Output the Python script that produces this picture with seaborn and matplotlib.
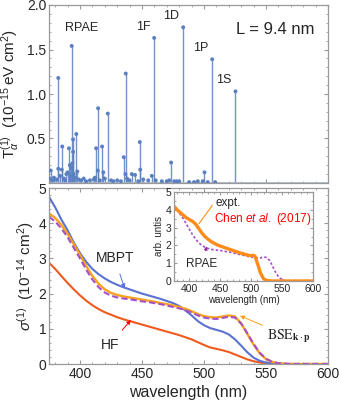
import numpy as np
import pandas as pd
import matplotlib
matplotlib.use("Agg")
import matplotlib.pyplot as plt
from matplotlib.ticker import MultipleLocator, FormatStrFormatter
import seaborn as sns

# ---------------- data ----------------
# top panel: oscillator strengths (RPAE), wavelength (nm) and T (1e-15 eV cm^2)
stem_wl = [376.4, 382.5, 382.5, 385.7, 385.3, 391.1, 393.3, 394.4, 394.4, 397.0, 397.8, 392.8,
           413.0, 414.6, 414.4, 417.8, 418.8, 422.4, 435.3, 436.9, 436.7, 448.2, 448.6, 441.8,
           444.4, 459.8, 457.9, 473.5, 483.2, 500.4, 506.6, 525.4,
           375.5, 378.0, 379.0, 381.0, 384.0, 387.0, 388.0, 389.0, 390.0, 391.8, 392.3, 393.8,
           395.0, 396.0, 399.0, 401.0, 403.0, 405.0, 408.0, 411.0, 412.0, 416.0, 420.0, 425.0,
           427.0, 430.0, 433.0, 438.0, 440.0, 447.0, 451.0, 455.0, 461.0, 466.0, 470.0, 472.0,
           476.0, 478.0, 480.0, 488.0, 492.0, 495.0, 499.0, 503.0, 509.0]
stem_val = [0.14, 1.18, 0.16, 0.41, 0.15, 0.39, 1.54, 0.49, 0.35, 0.55, 0.13, 0.17,
            0.39, 0.84, 0.14, 0.41, 0.12, 0.78, 0.29, 1.23, 0.10, 0.46, 0.15, 0.10,
            0.09, 1.63, 0.08, 0.23, 1.75, 0.12, 1.39, 1.03,
            0.05, 0.03, 0.06, 0.04, 0.08, 0.05, 0.03, 0.10, 0.12, 0.20, 0.08, 0.22,
            0.10, 0.06, 0.04, 0.03, 0.05, 0.02, 0.03, 0.04, 0.06, 0.03, 0.05, 0.03,
            0.02, 0.03, 0.02, 0.05, 0.03, 0.02, 0.04, 0.03, 0.03, 0.02, 0.02, 0.03,
            0.02, 0.02, 0.02, 0.01, 0.01, 0.02, 0.02, 0.01, 0.01]

state_labels = ["1F", "1D", "1P", "1S"]

# bottom panel: cross sections (1e-14 cm^2)
wl = [375, 380, 385, 390, 395, 400, 405, 410, 415, 420, 425, 430, 435, 440, 445, 450,
      455, 460, 465, 470, 475, 480, 485, 490, 495, 500, 505, 510, 515, 520, 525, 530,
      535, 540, 545, 550, 555, 560, 565, 570, 580, 590, 600]
mbpt = [4.75, 4.45, 4.10, 3.80, 3.45, 3.15, 2.90, 2.70, 2.55, 2.43, 2.33, 2.25, 2.18, 2.12, 2.06, 2.00,
        1.95, 1.90, 1.85, 1.79, 1.73, 1.65, 1.52, 1.38, 1.22, 1.10, 1.02, 0.97, 0.92, 0.84, 0.70, 0.52,
        0.33, 0.18, 0.09, 0.04, 0.02, 0.01, 0.0, 0.0, 0.0, 0.0, 0.0]
bse = [4.28, 4.15, 3.95, 3.70, 3.40, 3.10, 2.78, 2.50, 2.28, 2.12, 2.02, 1.96, 1.92, 1.89, 1.86, 1.83,
       1.80, 1.77, 1.73, 1.70, 1.66, 1.62, 1.57, 1.50, 1.42, 1.36, 1.33, 1.32, 1.35, 1.38, 1.35, 1.15,
       0.85, 0.55, 0.30, 0.14, 0.06, 0.02, 0.01, 0.0, 0.0, 0.0, 0.0]
rpae = [4.18, 4.05, 3.85, 3.60, 3.30, 3.00, 2.68, 2.40, 2.18, 2.03, 1.94, 1.89, 1.86, 1.84, 1.81, 1.78,
        1.76, 1.73, 1.70, 1.66, 1.62, 1.58, 1.53, 1.46, 1.38, 1.32, 1.29, 1.28, 1.31, 1.34, 1.32, 1.15,
        0.87, 0.57, 0.32, 0.15, 0.06, 0.02, 0.01, 0.0, 0.0, 0.0, 0.0]
hf = [2.88, 2.70, 2.50, 2.30, 2.12, 1.95, 1.80, 1.67, 1.56, 1.47, 1.40, 1.33, 1.27, 1.22, 1.17, 1.12,
      1.07, 1.02, 0.97, 0.92, 0.87, 0.82, 0.76, 0.70, 0.62, 0.54, 0.47, 0.43, 0.39, 0.34, 0.27, 0.20,
      0.13, 0.08, 0.04, 0.02, 0.01, 0.0, 0.0, 0.0, 0.0, 0.0, 0.0]

# inset: experiment vs RPAE (arb. units)
ins_wl = [375, 380, 385, 390, 395, 400, 405, 410, 415, 420, 425, 430, 435, 440, 445, 450, 455, 460,
          465, 470, 475, 480, 485, 490, 495, 500, 503, 506, 510, 515, 520, 525, 530, 535, 540, 545,
          550, 555, 560, 570, 580, 590, 600]
expt = [4.20, 4.00, 3.85, 3.70, 3.55, 3.45, 3.35, 3.20, 2.95, 2.70, 2.50, 2.35, 2.22, 2.12, 2.03, 1.96,
        1.90, 1.84, 1.78, 1.72, 1.66, 1.60, 1.55, 1.50, 1.45, 1.42, 1.45, 1.40, 1.00, 0.45, 0.12, 0.03,
        0.01, 0.0, 0.0, 0.0, 0.0, 0.0, 0.0, 0.0, 0.0, 0.0, 0.0]
rpae_ins = [4.20, 4.00, 3.75, 3.50, 3.20, 2.90, 2.60, 2.35, 2.15, 2.00, 1.90, 1.83, 1.78, 1.75, 1.73,
            1.71, 1.68, 1.65, 1.62, 1.58, 1.54, 1.50, 1.46, 1.42, 1.38, 1.35, 1.33, 1.32, 1.30, 1.30,
            1.35, 1.32, 1.15, 0.80, 0.45, 0.20, 0.07, 0.02, 0.0, 0.0, 0.0, 0.0, 0.0]

# ---------------- style ----------------
sns.set_style("ticks")
plt.rcParams["font.family"] = ["Liberation Sans", "DejaVu Sans"]
plt.rcParams["mathtext.fontset"] = "custom"
plt.rcParams["mathtext.rm"] = "Liberation Sans"
plt.rcParams["mathtext.it"] = "Liberation Sans:italic"
plt.rcParams["mathtext.bf"] = "Liberation Sans:bold"

FRAME = "#9a9a9a"
C_STEM = "#5a80c0"
C_MBPT = "#5b72d0"
C_BSE = "#f7a21b"
C_RPAE = "#a64fc9"
C_HF = "#ef5b1e"
C_EXPT = "#ff8c1a"

W, H = 339, 404
fig = plt.figure(figsize=(W / 100, H / 100), dpi=100)

def rect(l, t, r, b):
    return [l / W, 1 - b / H, (r - l) / W, (b - t) / H]

ax1 = fig.add_axes(rect(49, 5, 328, 183))
ax2 = fig.add_axes(rect(49, 188, 328, 364))
ax3 = fig.add_axes(rect(174, 192, 313, 281))

def frame(ax, size=3, labelsize=10):
    for s in ax.spines.values():
        s.set_color(FRAME)
        s.set_linewidth(0.9)
    ax.tick_params(which="both", direction="in", top=True, right=True, color=FRAME,
                   labelsize=labelsize, pad=2)
    ax.tick_params(which="major", length=size, width=0.8)
    ax.tick_params(which="minor", length=size * 0.55, width=0.6)

# ---------------- top panel ----------------
stems = pd.DataFrame({"wl": stem_wl, "T": stem_val})
ax1.vlines(stems["wl"], 0, stems["T"], color=C_STEM, lw=1.0, alpha=0.85)
sns.scatterplot(data=stems, x="wl", y="T", ax=ax1, color=C_STEM, s=8, edgecolor="none", zorder=3)
ax1.axhline(0.0, color="#aab6cc", lw=1.2)
ax1.set_xlim(375, 600)
ax1.set_ylim(0, 2.0)
ax1.set_yticks([0.5, 1.0, 1.5, 2.0])
ax1.yaxis.set_major_formatter(FormatStrFormatter("%.1f"))
ax1.yaxis.set_minor_locator(MultipleLocator(0.1))
ax1.xaxis.set_major_locator(MultipleLocator(50))
ax1.xaxis.set_minor_locator(MultipleLocator(10))
ax1.set_xticklabels([])
ax1.set_xlabel("")
ax1.set_ylabel(r"$\mathrm{T}_{\alpha}^{(1)}$  $(10^{-15}\,\mathrm{eV\ cm}^{2})$", fontsize=11, labelpad=4)
frame(ax1)

ax1.text(82 / W, 1 - 28 / H, "RPAE", transform=fig.transFigure, fontsize=9, ha="center", va="center")
label_xy = [(459.8, 1.63), (483.2, 1.75), (506.6, 1.39), (525.4, 1.03)]
for lab, (x, y) in zip(state_labels, label_xy):
    ax1.text(x - 3, y + 0.06, lab, fontsize=9, ha="right", va="bottom")
ax1.text(0.95, 0.86, "L = 9.4 nm", transform=ax1.transAxes, fontsize=12, ha="right", va="center")

# ---------------- bottom panel ----------------
df = pd.DataFrame({"wl": wl, "MBPT": mbpt, "BSE": bse, "RPAE": rpae, "HF": hf})
sns.lineplot(data=df, x="wl", y="HF", ax=ax2, color=C_HF, lw=1.5)
sns.lineplot(data=df, x="wl", y="MBPT", ax=ax2, color=C_MBPT, lw=1.5)
sns.lineplot(data=df, x="wl", y="BSE", ax=ax2, color=C_BSE, lw=1.7)
sns.lineplot(data=df, x="wl", y="RPAE", ax=ax2, color=C_RPAE, lw=1.5, linestyle=(0, (3, 1.5)))
ax2.set_xlim(375, 600)
ax2.set_ylim(0, 5)
ax2.set_xticks([400, 450, 500, 550, 600])
ax2.xaxis.set_minor_locator(MultipleLocator(10))
ax2.set_yticks([0, 1, 2, 3, 4, 5])
ax2.yaxis.set_minor_locator(MultipleLocator(0.2))
ax2.set_xlabel("wavelength (nm)", fontsize=11.5, labelpad=3)
ax2.set_ylabel(r"$\sigma^{(1)}$  $(10^{-14}\ \mathrm{cm}^{2})$", fontsize=11, labelpad=2)
frame(ax2)

ax2.annotate("MBPT", xy=(436, 2.15), xytext=(428, 3.0), fontsize=10, ha="center", va="center",
             arrowprops=dict(arrowstyle="-|>", color=C_MBPT, lw=0.7, mutation_scale=6,
                             shrinkA=4, shrinkB=0))
ax2.annotate("HF", xy=(441, 1.25), xytext=(424, 0.55), fontsize=10, ha="center", va="center",
             arrowprops=dict(arrowstyle="-|>", color="red", lw=0.7, mutation_scale=6,
                             shrinkA=4, shrinkB=0))
ax2.annotate(r"$\mathrm{BSE}_{\mathbf{k}\cdot\mathbf{p}}$", xy=(529, 1.37), xytext=(551, 0.78),
             fontsize=10, ha="left", va="center", math_fontfamily="stix",
             arrowprops=dict(arrowstyle="-|>", color=C_BSE, lw=0.7, mutation_scale=6,
                             shrinkA=1, shrinkB=0))

# ---------------- inset ----------------
di = pd.DataFrame({"wl": ins_wl, "expt": expt, "rpae": rpae_ins})
sns.lineplot(data=di, x="wl", y="rpae", ax=ax3, color=C_RPAE, lw=1.2, linestyle=(0, (1.5, 1.2)))
sns.lineplot(data=di, x="wl", y="expt", ax=ax3, color=C_EXPT, lw=2.4)
ax3.set_xlim(375, 600)
ax3.set_ylim(0, 5)
ax3.set_xticks([400, 450, 500, 550, 600])
ax3.set_yticks([0, 1, 2, 3, 4, 5])
ax3.xaxis.set_minor_locator(MultipleLocator(10))
ax3.yaxis.set_minor_locator(MultipleLocator(0.5))
ax3.set_xlabel("wavelength (nm)", fontsize=7, labelpad=1)
ax3.set_ylabel("arb. untis", fontsize=7, labelpad=1)
frame(ax3, size=2, labelsize=7.5)
ax3.set_facecolor("white")

ax3.text(442, 4.4, "expt.", fontsize=8.5, ha="left", va="center")
ax3.annotate("", xy=(414, 3.15), xytext=(437, 4.25),
             arrowprops=dict(arrowstyle="-", color=C_EXPT, lw=0.8, shrinkA=0, shrinkB=1))
ax3.text(439, 3.5, r"Chen $\mathit{et\ al.}$ (2017)", fontsize=8.5, color="red", ha="left", va="center")
ax3.annotate("RPAE", xy=(428, 1.95), xytext=(395, 0.95), fontsize=8.5, ha="left", va="center",
             arrowprops=dict(arrowstyle="-|>", color="#9b2a9b", lw=0.7, mutation_scale=5,
                             shrinkA=3, shrinkB=0))

fig.savefig("out.png", dpi=100)
